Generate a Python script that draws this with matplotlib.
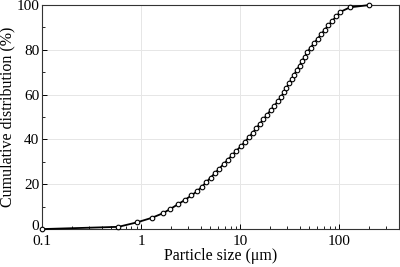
import matplotlib
matplotlib.use("Agg")
import matplotlib.pyplot as plt
from matplotlib.ticker import LogLocator, MultipleLocator, FixedLocator
from matplotlib.transforms import ScaledTranslation

plt.rcParams['font.family'] = ['Liberation Serif', 'DejaVu Serif']

# particle size (um) vs cumulative distribution (%)
size = [0.1, 0.59, 0.91, 1.28, 1.65, 1.98, 2.34, 2.77, 3.22, 3.71, 4.13,
        4.57, 5.05, 5.58, 6.17, 6.81, 7.53, 8.32, 9.19, 10.2, 11.2,
        12.3, 13.4, 14.6, 15.8, 17.2, 18.7, 20.3, 22.1, 24.0, 25.9,
        27.6, 29.3, 31.2, 33.1, 35.2, 37.4, 39.8, 42.3, 45.0, 47.9,
        51.4, 55.9, 60.7, 65.9, 71.7, 78.0, 85.5, 93.7, 103, 129, 200]
cumul = [0, 1, 3, 5, 7, 9, 11, 13, 15, 17, 19,
         21, 23, 25, 27, 29, 31, 33, 35, 37, 39,
         41, 43, 45, 47, 49, 51, 53, 55, 57, 59,
         61, 63, 65, 67, 69, 71, 73, 75, 77, 79,
         81, 83, 85, 87, 89, 91, 93, 95, 97, 99, 100]

xticks = [0.1, 1, 10, 100]
xticklabels = ['0.1', '1', '10', '100']
yticks = [0, 20, 40, 60, 80, 100]

fig = plt.figure(figsize=(4, 2.67), dpi=100)
ax = fig.add_axes([0.105, 0.142, 0.892, 0.839])

ax.plot(size, cumul, color='black', lw=1.3, marker='o', ms=3.3,
        mfc='white', mec='black', mew=0.8, clip_on=False, zorder=3)

ax.set_xscale('log')
ax.set_xlim(0.1, 400)
ax.set_ylim(0, 100)
ax.xaxis.set_major_locator(FixedLocator(xticks))
ax.set_xticklabels(xticklabels)
ax.xaxis.set_minor_locator(LogLocator(base=10, subs=range(2, 10), numticks=20))
ax.set_yticks(yticks)
ax.yaxis.set_minor_locator(MultipleLocator(10))

ax.grid(True, which='major', color='#e6e6e6', lw=0.7)
ax.set_axisbelow(True)

ax.tick_params(which='both', direction='in', labelsize=11)
ax.tick_params(axis='x', pad=4)
ax.tick_params(axis='y', pad=2)
ax.tick_params(which='major', length=3.5, width=0.7)
ax.tick_params(which='minor', length=2, width=0.6)
ax.tick_params(axis='x', which='minor', labelbottom=False)
for s in ax.spines.values():
    s.set_linewidth(0.8)
    s.set_color('#333333')

# nudge the y "0" up a touch so it doesn't collide with "0.1"
lab0 = ax.get_yticklabels()[0]
lab0.set_transform(lab0.get_transform() + ScaledTranslation(0, 3 / 72, fig.dpi_scale_trans))

ax.set_xlabel('Particle size (μm)', fontsize=11.5, labelpad=0)
ax.set_ylabel('Cumulative distribution (%)', fontsize=11.5, labelpad=1)

fig.savefig('out.png', dpi=100)
